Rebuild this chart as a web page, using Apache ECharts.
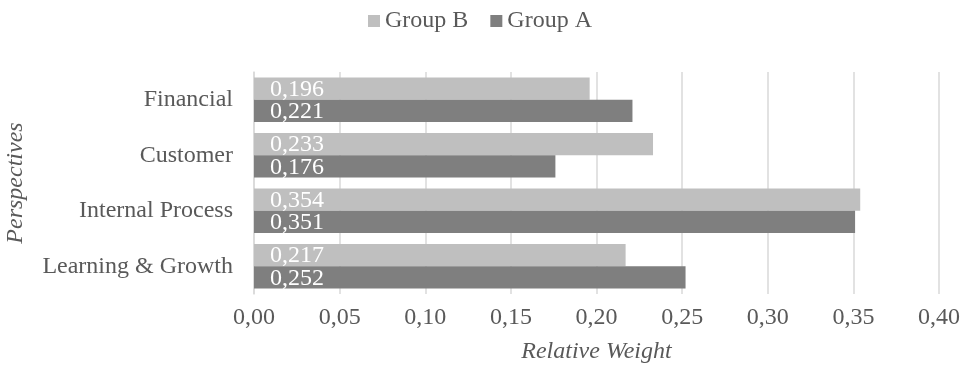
<!DOCTYPE html>
<html>
<head>
<meta charset="utf-8">
<script src="https://cdn.jsdelivr.net/npm/echarts@6/dist/echarts.min.js"></script>
<style>
  html, body { margin: 0; padding: 0; background: #ffffff; }
  #chart { width: 960px; height: 374px; }
</style>
</head>
<body>
<div id="chart"></div>
<script>
// Perspectives (top to bottom) and relative weights per group
const categories = ['Financial', 'Customer', 'Internal Process', 'Learning & Growth'];
const groupB = [0.196, 0.233, 0.354, 0.217];
const groupA = [0.221, 0.176, 0.351, 0.252];
const seriesNames = ['Group B', 'Group A'];

const FONT = 'Liberation Serif';
const TEXT = '#595959';
const GRID = '#d9d9d9';
const FS = 24;

// Decimal comma formatting
const comma = (v, d) => v.toFixed(d).replace('.', ',');

const chart = echarts.init(document.getElementById('chart'), null, { renderer: 'canvas' });

const barLabel = {
  show: true,
  position: 'insideLeft',
  distance: 16,
  offset: [0, 1],
  color: '#ffffff',
  fontFamily: FONT,
  fontSize: FS,
  formatter: p => comma(p.value, 3)
};

chart.setOption({
  animation: false,
  textStyle: { fontFamily: FONT, color: TEXT },
  legend: {
    top: 4,
    left: 'center',
    itemWidth: 12,
    itemHeight: 12,
    itemGap: 22,
    icon: 'rect',
    textStyle: { fontFamily: FONT, fontSize: FS, color: TEXT },
    data: seriesNames
  },
  grid: { left: 254, right: 21, top: 72, bottom: 80, outerBoundsMode: 'none' },
  xAxis: {
    type: 'value',
    min: 0,
    max: 0.4,
    interval: 0.05,
    name: 'Relative Weight',
    nameLocation: 'middle',
    nameGap: 46,
    nameTextStyle: { fontFamily: FONT, fontSize: FS, fontStyle: 'italic', color: TEXT },
    axisLine: { show: false },
    axisTick: { show: false },
    axisLabel: {
      margin: 12,
      fontFamily: FONT,
      fontSize: FS,
      color: TEXT,
      formatter: v => comma(v, 2)
    },
    splitLine: { show: true, lineStyle: { color: GRID, width: 1.5 } }
  },
  yAxis: {
    type: 'category',
    data: categories,
    inverse: true,
    name: 'Perspectives',
    nameLocation: 'middle',
    nameGap: 226,
    nameRotate: 90,
    nameTextStyle: { fontFamily: FONT, fontSize: FS, fontStyle: 'italic', color: TEXT },
    axisLine: { show: true, lineStyle: { color: GRID, width: 1.5 } },
    axisTick: { show: false },
    axisLabel: { margin: 21, fontFamily: FONT, fontSize: FS, color: TEXT }
  },
  series: [
    {
      name: seriesNames[0],
      type: 'bar',
      data: groupB,
      itemStyle: { color: '#bfbfbf' },
      barGap: '0%',
      barCategoryGap: '20%',
      label: barLabel
    },
    {
      name: seriesNames[1],
      type: 'bar',
      data: groupA,
      itemStyle: { color: '#7f7f7f' },
      barGap: '0%',
      barCategoryGap: '20%',
      label: barLabel
    }
  ]
});
</script>
</body>
</html>
